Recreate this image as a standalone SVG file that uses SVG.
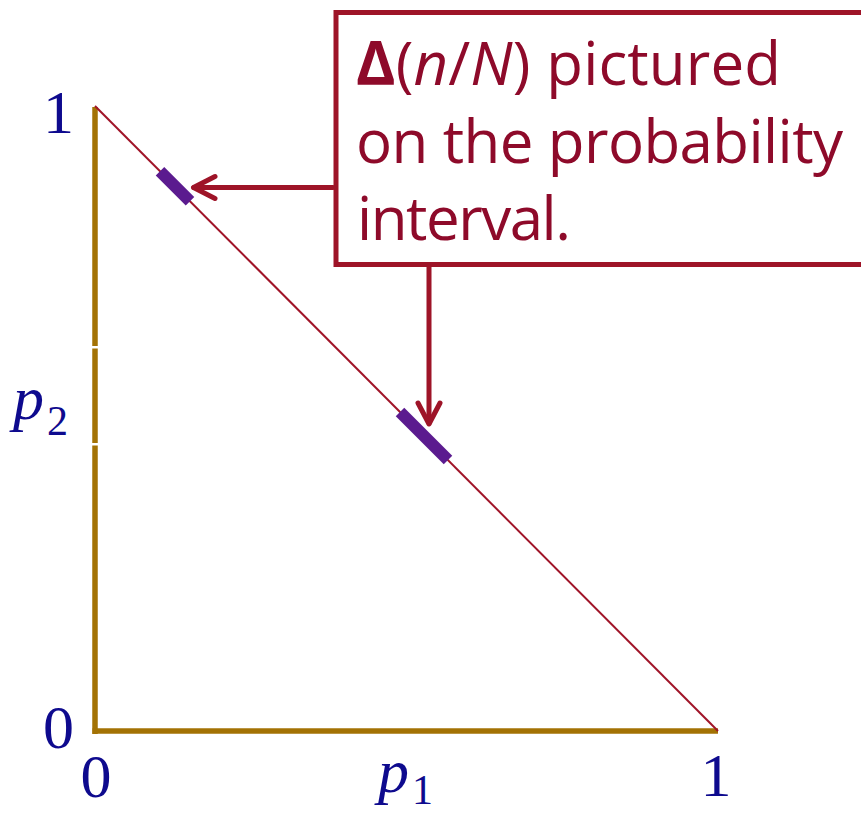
<svg xmlns="http://www.w3.org/2000/svg" width="861" height="813" viewBox="0 0 861 813">
<style>
.lab{font-family:"Liberation Serif","Times New Roman",serif;fill:#0e0a8e;font-size:62px}
.it{font-style:italic}
.box{font-family:"Open Sans","Liberation Sans",sans-serif;fill:#8e0a2a;font-size:60px}
.arr{fill:none;stroke:#9e1428;stroke-width:5;stroke-linecap:round;stroke-linejoin:round}
</style>
<rect width="861" height="813" fill="#ffffff"/>
<g id="axes">
<line x1="95" y1="107" x2="95" y2="734" stroke="#a37204" stroke-width="5.5"/>
<line x1="92.5" y1="731" x2="718" y2="731" stroke="#a37204" stroke-width="5.5"/>
<rect x="90" y="346" width="10" height="2.5" fill="#ffffff"/>
<rect x="90" y="443" width="10" height="2.5" fill="#ffffff"/>
</g>
<g id="diagonal">
<line x1="95" y1="106" x2="718" y2="731" stroke="#a01428" stroke-width="2"/>
</g>
<g id="marks">
<line x1="160" y1="171.2" x2="190" y2="201.3" stroke="#5b1b8f" stroke-width="12"/>
<line x1="400" y1="412" x2="448" y2="460" stroke="#5b1b8f" stroke-width="12"/>
</g>
<g id="labels">
<text class="lab" x="58.5" y="133" text-anchor="middle">1</text>
<text class="lab" x="58.5" y="748" text-anchor="middle">0</text>
<text class="lab" x="96" y="797" text-anchor="middle">0</text>
<text class="lab" x="716" y="796" text-anchor="middle">1</text>
<text class="lab" x="378" y="792"><tspan class="it">p</tspan><tspan font-size="42" dx="3" dy="12">1</tspan></text>
<text class="lab" x="13" y="419"><tspan class="it">p</tspan><tspan font-size="42" dx="3" dy="16">2</tspan></text>
</g>
<g id="callout">
<rect x="336" y="12.5" width="540" height="252" fill="#ffffff" stroke="#9e1428" stroke-width="5"/>
<text class="box" x="356" y="85" textLength="425" lengthAdjust="spacing"><tspan font-weight="bold">Δ</tspan>(<tspan font-style="italic">n</tspan>/<tspan font-style="italic">N</tspan>) pictured</text>
<text class="box" x="356" y="163" textLength="487" lengthAdjust="spacing">on the probability</text>
<text class="box" x="357" y="240" textLength="214" lengthAdjust="spacing">interval.</text>
</g>
<g id="connectors">
<line class="arr" x1="333" y1="187.5" x2="194" y2="187.5"/>
<polyline class="arr" points="215,176.5 193.5,187.5 215,198.5"/>
<line class="arr" x1="429" y1="267" x2="429" y2="423"/>
<polyline class="arr" points="418,403 429,424 440,403"/>
</g>
</svg>
